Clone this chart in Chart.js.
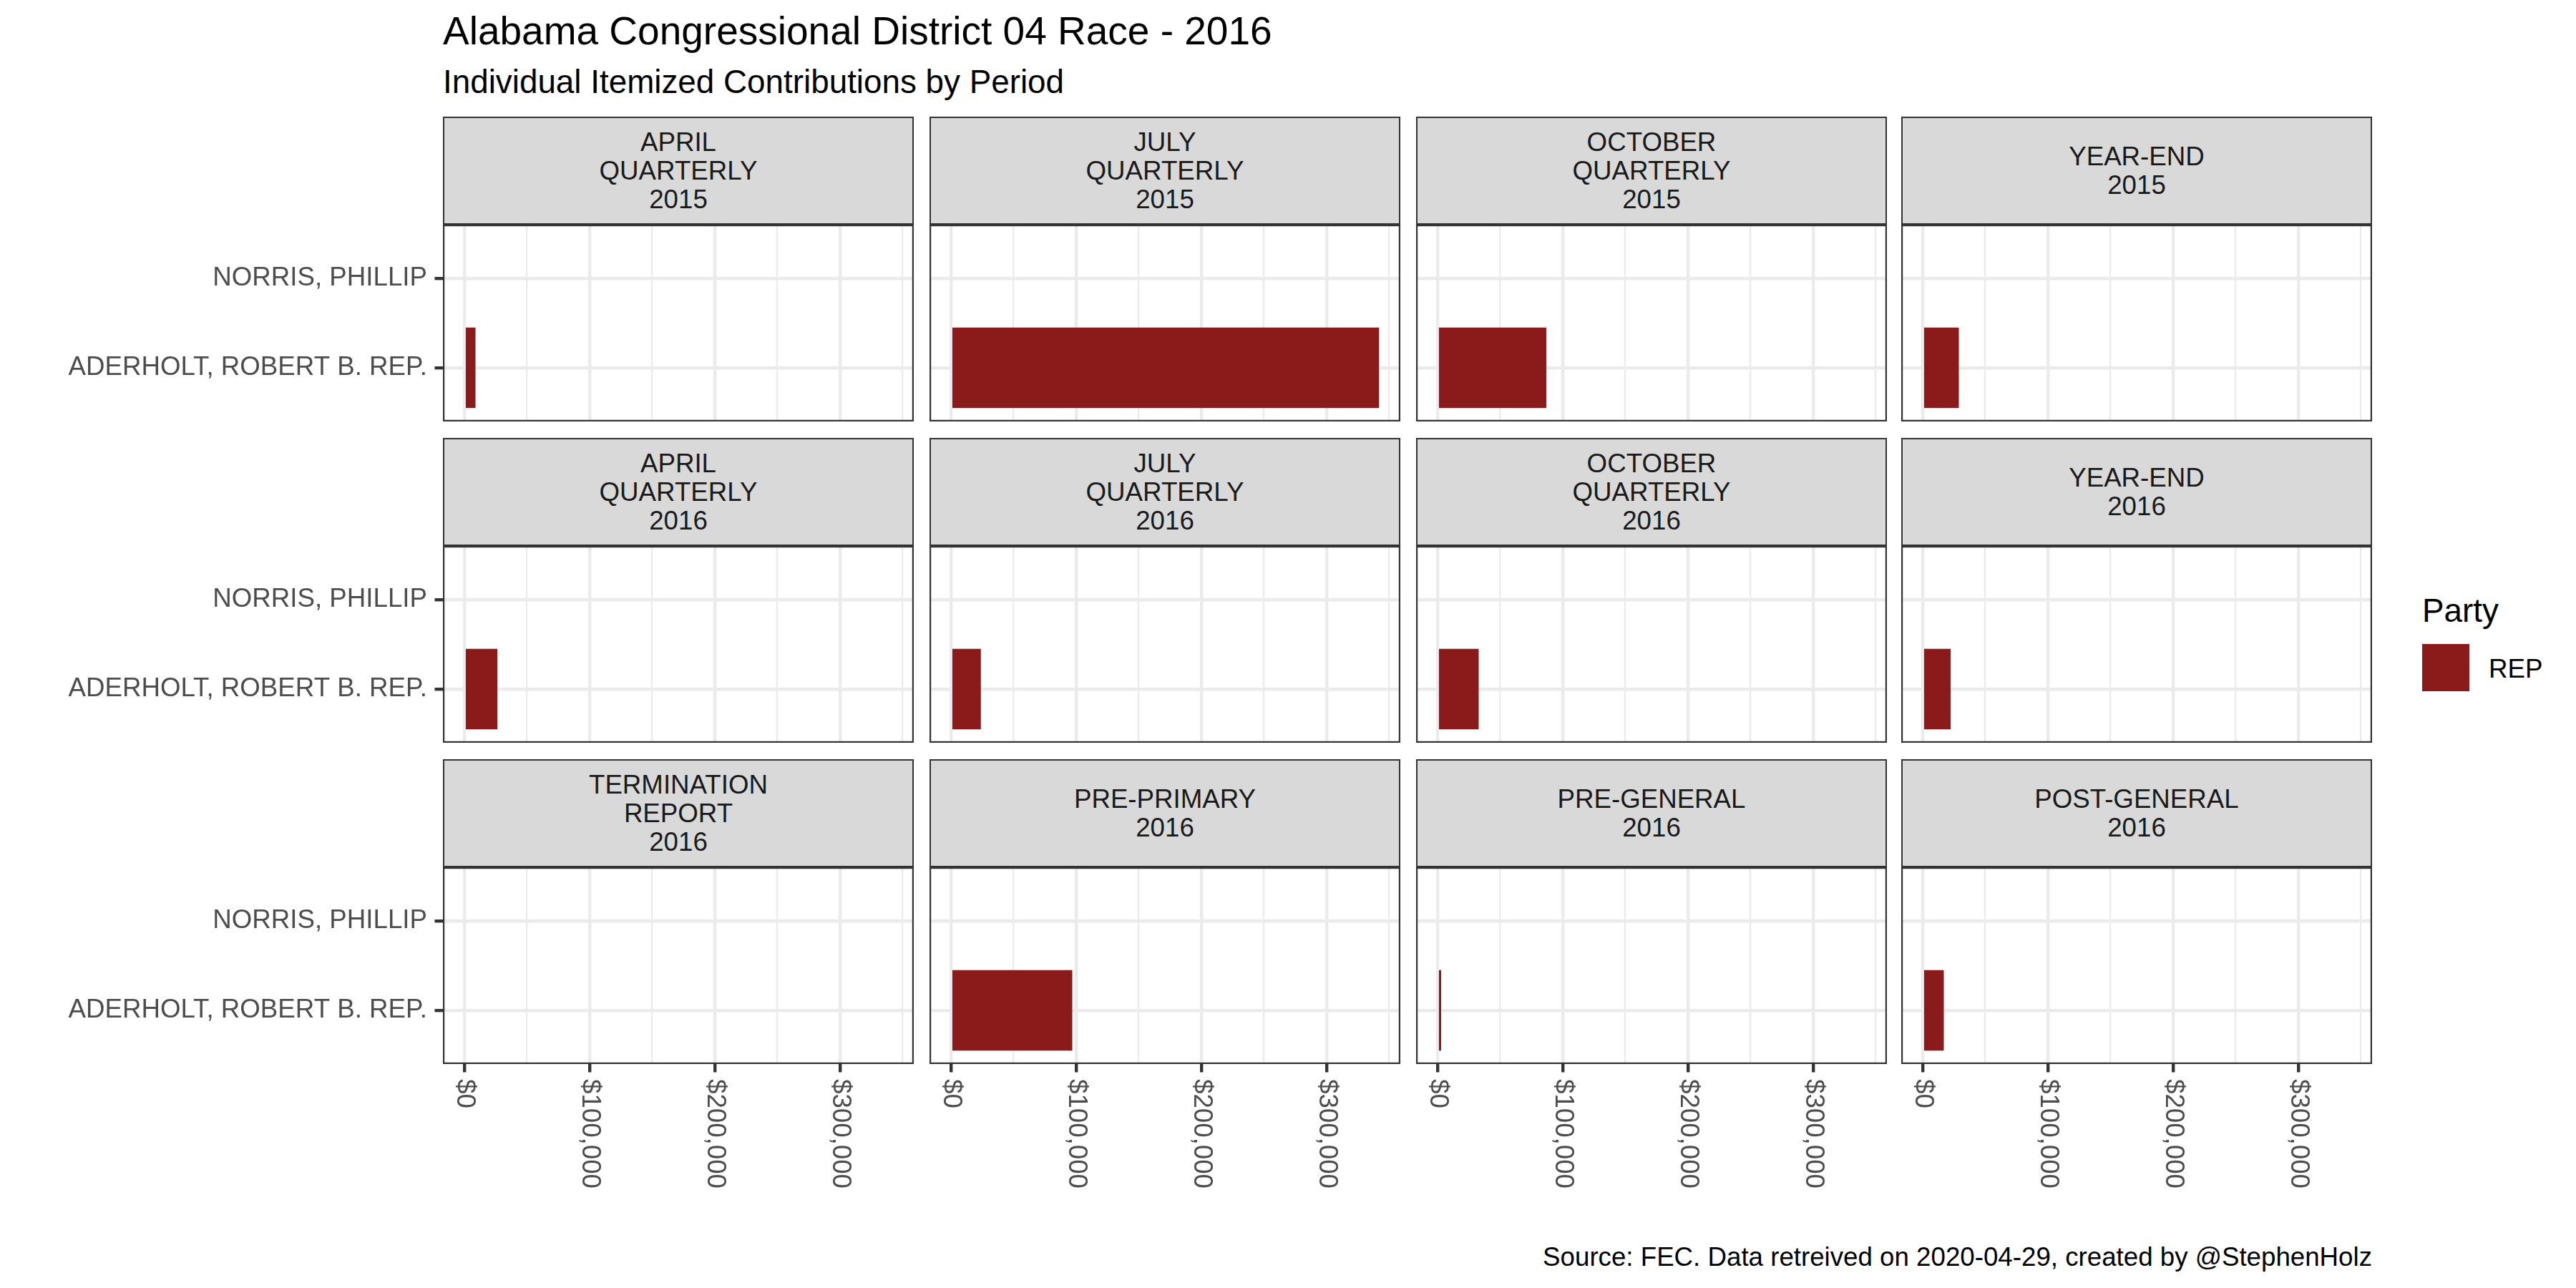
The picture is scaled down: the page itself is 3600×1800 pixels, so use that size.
<!DOCTYPE html>
<html>
<head>
<meta charset="utf-8">
<script src="https://cdn.jsdelivr.net/npm/chart.js@4.4.1/dist/chart.umd.min.js"></script>
<style>
  body { margin: 0; background: #fff; font-family: 'Liberation Sans', Arial, sans-serif; }
  #page { position: relative; width: 3600px; height: 1800px; overflow: hidden; background: #fff; }
  .txt { position: absolute; white-space: nowrap; line-height: 1; color: #000; }
  .strip { position: absolute; box-sizing: border-box; border: 2.2px solid #333; background: #d9d9d9;
           color: #1a1a1a; font-size: 36.7px; line-height: 40px; text-align: center; white-space: pre-line;
           display: flex; align-items: center; justify-content: center; }
  canvas { position: absolute; }
</style>
</head>
<body>
<div id="page">
  <div class="txt" style="left:619px; top:16px; font-size:55px;">Alabama Congressional District 04 Race - 2016</div>
  <div class="txt" style="left:619px; top:92px; font-size:45.8px;">Individual Itemized Contributions by Period</div>
  <div class="txt" style="left:3385px; top:831px; font-size:45.8px;">Party</div>
  <div style="position:absolute; left:3385px; top:900px; width:66px; height:66px; background:#8b1a1a;"></div>
  <div class="txt" style="left:3478px; top:917px; font-size:36.7px;">REP</div>
  <div class="txt" style="right:285px; top:1739px; font-size:36.7px;">Source: FEC. Data retreived on 2020-04-29, created by @StephenHolz</div>
</div>
<script>
//data
let candidates = ['ADERHOLT, ROBERT B. REP.', 'NORRIS, PHILLIP'];
let periods = [
    'APRIL\nQUARTERLY\n2015', 'JULY\nQUARTERLY\n2015', 'OCTOBER\nQUARTERLY\n2015', 'YEAR-END\n2015',
    'APRIL\nQUARTERLY\n2016', 'JULY\nQUARTERLY\n2016', 'OCTOBER\nQUARTERLY\n2016', 'YEAR-END\n2016',
    'TERMINATION\nREPORT\n2016', 'PRE-PRIMARY\n2016', 'PRE-GENERAL\n2016', 'POST-GENERAL\n2016'
];
let aderholt = [9000, 342000, 87000, 29000, 26500, 24000, 33000, 22500, null, 97000, 3000, 17000];
let norris = [null, null, null, null, null, null, null, null, null, null, null, null];
let xTickValues = [0, 100000, 200000, 300000];
let xTickLabels = ['$0', '$100,000', '$200,000', '$300,000'];
let xMinorValues = [50000, 150000, 250000, 350000];
let xMin = -17000;
let xMax = 359000;

//layout
let colLefts = [619, 1299, 1979, 2657];
let stripTops = [163, 612, 1061];
let panelW = 658, stripH = 151, panelH = 275, pad = 4;
let page = document.getElementById('page');
let font = 'Liberation Sans';

let panelBorder = {
    id: 'panelBorder',
    afterDraw: function (chart) {
        let a = chart.chartArea, ctx = chart.ctx;
        ctx.save();
        ctx.strokeStyle = '#333333';
        ctx.lineWidth = 2.2;
        ctx.strokeRect(a.left + 1.1, a.top + 1.1, a.right - a.left - 2.2, a.bottom - a.top - 2.2);
        ctx.restore();
    }
};

// tick labels drawn here: x labels run top to bottom, Chart.js only rotates the other way
let tickText = {
    id: 'tickText',
    afterDraw: function (chart, args, opts) {
        let ctx = chart.ctx, area = chart.chartArea;
        ctx.save();
        ctx.font = '36.7px "' + font + '"';
        ctx.fillStyle = '#4d4d4d';
        if (opts.y) {
            ctx.textAlign = 'right';
            ctx.textBaseline = 'middle';
            candidates.forEach(function (name, k) {
                ctx.fillText(name, area.left - 22, chart.scales.y.getPixelForValue(k));
            });
        }
        if (opts.x) {
            ctx.textAlign = 'left';
            ctx.textBaseline = 'middle';
            xTickValues.forEach(function (v, i) {
                ctx.save();
                ctx.translate(chart.scales.x.getPixelForValue(v), area.bottom + 21);
                ctx.rotate(Math.PI / 2);
                ctx.fillText(xTickLabels[i], 0, 0);
                ctx.restore();
            });
        }
        ctx.restore();
    }
};

function isMajor(ctx) {
    return ctx.tick && xTickValues.indexOf(ctx.tick.value) >= 0;
}

function panel(i) {
    let r = Math.floor(i / 4), c = i % 4;
    let firstCol = c === 0, bottom = r === 2;
    let left = colLefts[c], top = stripTops[r];

    let strip = document.createElement('div');
    strip.classList.add('strip');
    strip.style.left = left + 'px';
    strip.style.top = top + 'px';
    strip.style.width = panelW + 'px';
    strip.style.height = stripH + 'px';
    strip.textContent = periods[i];
    page.append(strip);

    let panelTop = top + stripH;
    let canvasLeft = firstCol ? 0 : left - pad;
    let canvas = document.createElement('canvas');
    canvas.width = left + panelW + pad - canvasLeft;
    canvas.height = pad + panelH + (bottom ? 240 : pad);
    canvas.style.left = canvasLeft + 'px';
    canvas.style.top = (panelTop - pad) + 'px';
    page.append(canvas);

    let points = [];
    if (aderholt[i] !== null) points.push({x: aderholt[i], y: 0});
    if (norris[i] !== null) points.push({x: norris[i], y: 1});

    new Chart(canvas.getContext('2d'), {
        type: 'bar',
        data: {
            datasets: [{
                label: 'REP',
                data: points,
                backgroundColor: '#8b1a1a',
                borderWidth: 0,
                barPercentage: 0.9,
                categoryPercentage: 1
            }]
        },
        plugins: [panelBorder, tickText],
        options: {
            indexAxis: 'y',
            responsive: false,
            animation: false,
            layout: { padding: { left: firstCol ? 0 : pad, right: pad, top: pad, bottom: bottom ? 0 : pad } },
            plugins: {
                legend: { display: false },
                tooltip: { enabled: false },
                tickText: { x: bottom, y: firstCol }
            },
            scales: {
                x: {
                    type: 'linear',
                    min: xMin,
                    max: xMax,
                    offset: false,
                    afterBuildTicks: function (axis) {
                        axis.ticks = xTickValues.concat(xMinorValues).sort(function (a, b) { return a - b; })
                            .map(function (v) { return {value: v}; });
                    },
                    afterFit: function (axis) { axis.height = bottom ? 240 : 0; },
                    border: { display: false },
                    ticks: { display: false },
                    grid: {
                        offset: false,
                        color: '#ebebeb',
                        lineWidth: function (ctx) { return isMajor(ctx) ? 4.4 : 2.2; },
                        drawTicks: bottom,
                        tickLength: 11.5,
                        tickWidth: 4.4,
                        tickColor: function (ctx) { return isMajor(ctx) ? '#333333' : 'rgba(0,0,0,0)'; }
                    }
                },
                y: {
                    type: 'linear',
                    min: -0.6,
                    max: 1.6,
                    offset: false,
                    afterBuildTicks: function (axis) {
                        axis.ticks = candidates.map(function (n, k) { return {value: k}; });
                    },
                    afterFit: function (axis) { axis.width = firstCol ? left : 0; },
                    border: { display: false },
                    ticks: { display: false },
                    grid: {
                        offset: false,
                        color: '#ebebeb',
                        lineWidth: 4.4,
                        drawTicks: firstCol,
                        tickLength: 11.5,
                        tickWidth: 4.4,
                        tickColor: '#333333'
                    }
                }
            }
        }
    });
}

for (let i = 0; i < periods.length; i++) {
    panel(i);
}
</script>
</body>
</html>
